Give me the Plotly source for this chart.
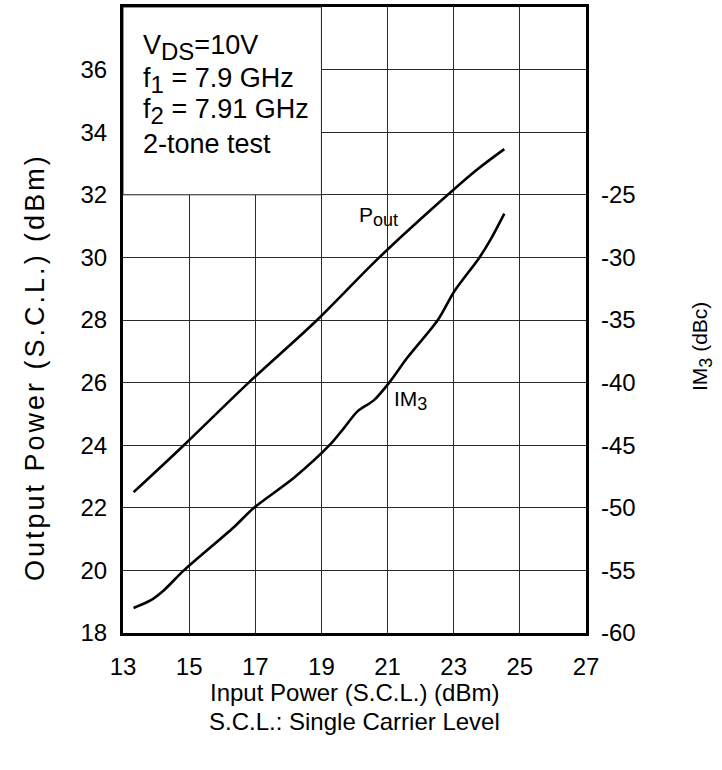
import plotly.graph_objects as go

# ---- data ----
pin_pout = [13.32, 14.84, 16.8, 18.87, 20.75, 22.82, 23.7, 24.53]
pout_dbm = [22.5, 24.0, 26.0, 28.0, 30.0, 32.0, 32.8, 33.46]

pin_im3 = [13.32, 13.83, 14.23, 14.84, 16.35, 16.96, 18.17, 19.28, 19.69, 20.09, 20.59, 21.05, 21.6, 22.52, 23.02, 23.78, 24.13, 24.53]
im3_dbc = [-58.0, -57.4, -56.6, -55.0, -51.55, -50.0, -47.6, -44.9, -43.6, -42.3, -41.4, -40.0, -38.0, -35.0, -32.7, -30.0, -28.5, -26.5]

x_ticks = [13, 15, 17, 19, 21, 23, 25, 27]
y_left_ticks = [18, 20, 22, 24, 26, 28, 30, 32, 34, 36]
y_right_ticks = [-60, -55, -50, -45, -40, -35, -30, -25]
y_right_labels = ["-60", "-55", "-50", "-45", "-40", "-35", "-30", "-25"]

FONT = "Liberation Sans, Arial, Helvetica, sans-serif"
TICKF = dict(family=FONT, size=24, color="black")
GRID = "#2a2a2a"

fig = go.Figure()
fig.add_trace(go.Scatter(x=pin_pout, y=pout_dbm, mode="lines", line=dict(color="black", width=2.6, shape="spline"),
                         showlegend=False, yaxis="y", hoverinfo="skip"))
fig.add_trace(go.Scatter(x=pin_im3, y=im3_dbc, mode="lines", line=dict(color="black", width=2.6, shape="spline", smoothing=0.8),
                         showlegend=False, yaxis="y2", hoverinfo="skip"))

fig.update_layout(
    width=722, height=770,
    margin=dict(l=123, r=136, t=4, b=137),
    paper_bgcolor="white", plot_bgcolor="white",
    font=dict(family=FONT, size=24, color="black"),
    xaxis=dict(range=[13, 27], tickvals=x_ticks, showgrid=True, gridcolor=GRID, gridwidth=1,
               showline=True, linecolor="black", linewidth=3, mirror=True, ticks="", tickfont=TICKF,
               zeroline=False, fixedrange=True, ticklabelstandoff=10),
    yaxis=dict(range=[18, 38], tickvals=y_left_ticks, showgrid=True, gridcolor=GRID, gridwidth=1,
               showline=True, linecolor="black", linewidth=3, mirror=True, ticks="", tickfont=TICKF,
               zeroline=False, ticklabelstandoff=8, fixedrange=True),
    yaxis2=dict(range=[-60, -10], tickvals=y_right_ticks, ticktext=y_right_labels, overlaying="y", side="right",
                showgrid=False, showline=False, ticks="", tickfont=TICKF, zeroline=False, ticklabelstandoff=14,
                fixedrange=True),
)

# white text box (covers grid in top-left)
fig.add_shape(type="rect", x0=13, x1=19, y0=32, y1=38, xref="x", yref="y",
              fillcolor="white", line=dict(color=GRID, width=1), layer="above")

SUBBOX = "<sub><span style='font-size:24px'>%s</span></sub>"
box_lines = ["V" + SUBBOX % "DS" + "=10V", "f" + SUBBOX % "1" + " = 7.9 GHz",
             "f" + SUBBOX % "2" + " = 7.91 GHz", "2-tone test"]
box_y = [36.72, 35.66, 34.66, 33.61]
for t, yy in zip(box_lines, box_y):
    fig.add_annotation(x=13.55, y=yy, xref="x", yref="y", text=t, showarrow=False,
                       xanchor="left", yanchor="middle", font=dict(family=FONT, size=27, color="black"))

SUBL = "<sub><span style='font-size:18px'>%s</span></sub>"
fig.add_annotation(x=20.09, y=31.3, xref="x", yref="y", text="P" + SUBL % "out", showarrow=False,
                   xanchor="left", yanchor="middle", font=dict(family=FONT, size=21))
fig.add_annotation(x=21.12, y=25.42, xref="x", yref="y", text="IM" + SUBL % "3", showarrow=False,
                   xanchor="left", yanchor="middle", font=dict(family=FONT, size=21))

# axis titles
fig.add_annotation(x=-0.19, y=0.425, xref="paper", yref="paper",
                   text="<span style='letter-spacing:3px'>Output Power (S.C.L.) (dBm)</span>",
                   showarrow=False, textangle=-90, xanchor="center", yanchor="middle", font=dict(family=FONT, size=27))
fig.add_annotation(x=1.25, y=0.458, xref="paper", yref="paper",
                   text="IM<sub><span style='font-size:18px'>3</span></sub> (dBc)",
                   showarrow=False, textangle=-90, xanchor="center", yanchor="middle", font=dict(family=FONT, size=21))
fig.add_annotation(x=0.5, y=-0.095, xref="paper", yref="paper", text="Input Power (S.C.L.) (dBm)",
                   showarrow=False, xanchor="center", yanchor="middle", font=dict(family=FONT, size=24))
fig.add_annotation(x=0.5, y=-0.141, xref="paper", yref="paper", text="S.C.L.: Single Carrier Level",
                   showarrow=False, xanchor="center", yanchor="middle", font=dict(family=FONT, size=24))

fig.write_html("out.html", config={"displayModeBar": False},
               post_script="document.body.style.margin='0';document.body.style.overflow='hidden';")
